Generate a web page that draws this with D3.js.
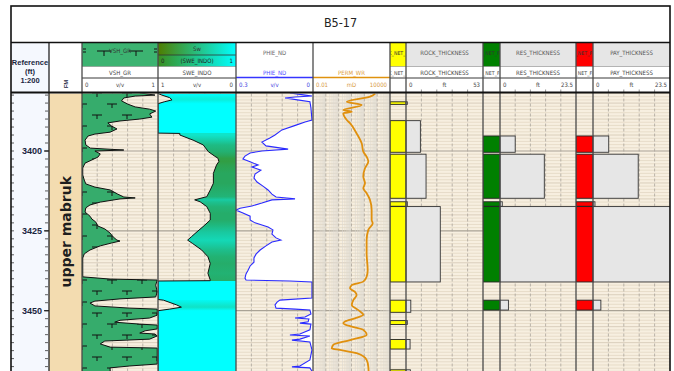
<!DOCTYPE html>
<html><head><meta charset="utf-8">
<script src="https://cdn.jsdelivr.net/npm/d3@7"></script>
<style>
html,body{margin:0;padding:0;background:#fff;}
svg{display:block;}
</style></head><body>
<svg id="log" width="674" height="371"></svg>
<script>
// ---------- well and depth ----------
const wellName = "B5-17";
const formationName = "upper mabruk";
const depthLabels = [3400, 3425, 3450];

// ---------- VSH_GR (v/v) ----------
const vshDepth = [3381.8,3382.5,3382.8,3383.4,3384.3,3385.3,3386.2,3386.9,3387.5,3388.4,3389.4,3390.0,3390.6,3391.2,3392.2,3393.1,3394.1,3394.7,3395.3,3396.6,3398.1,3399.1,3399.7,3400.0,3400.9,3401.9,3402.8,3403.8,3405.3,3407.5,3409.1,3410.3,3411.3,3412.2,3413.5,3414.4,3414.7,3415.0,3416.0,3416.9,3417.8,3419.1,3420.4,3421.3,3422.2,3423.5,3424.4,3425.7,3426.9,3427.9,3428.2,3428.8,3429.7,3431.0,3432.2,3433.5,3437.3,3439.4,3440.1,3440.4,3442.0,3444.1,3445.7,3446.3,3447.0,3447.6,3448.5,3449.2,3449.5,3451.4,3452.3,3453.0,3453.6,3454.2,3454.5,3455.7,3456.3,3457.0,3457.3,3457.9,3458.9,3459.5,3460.4,3461.4,3461.7,3466.7,3467.3,3467.9,3468.9,3470.0];
const vshValue = [0.76,0.96,0.70,0.55,0.52,0.60,0.70,0.89,0.97,0.89,0.92,0.76,0.50,0.34,0.39,0.46,0.37,0.17,0.08,0.04,0.05,0.11,0.55,0.17,0.24,0.21,0.13,0.04,0.01,0.01,0.03,0.05,0.17,0.37,0.47,0.55,0.70,0.50,0.24,0.105,0.05,0.04,0.105,0.13,0.18,0.21,0.30,0.37,0.41,0.46,0.50,0.39,0.24,0.105,0.03,0.01,0.01,0.01,0.37,0.99,0.97,0.99,0.97,0.50,0.17,0.105,0.17,0.63,0.99,0.99,0.89,0.50,0.43,0.76,0.99,0.99,0.83,0.76,0.96,0.99,0.89,0.30,0.24,0.37,0.99,0.99,0.63,0.37,0.37,0.50];

// ---------- SWE_INDO (v/v) ----------
const swDepth = [3382.0,3382.5,3383.3,3384.0,3384.6,3385.2,3394.4,3394.5,3395.0,3396.6,3398.1,3400.2,3401.5,3402.3,3403.3,3404.4,3407.0,3410.1,3412.2,3414.3,3415.3,3415.9,3417.4,3419.5,3421.6,3423.2,3425.3,3426.8,3427.9,3428.9,3431.0,3433.1,3435.2,3438.3,3440.4,3440.6,3440.7,3446.5,3446.7,3448.2,3448.9,3449.5,3450.0,3470.0];
const swValue = [1.0,0.95,0.85,0.82,0.92,1.0,1.0,0.72,0.72,0.55,0.42,0.355,0.28,0.23,0.22,0.25,0.29,0.29,0.33,0.375,0.53,0.46,0.375,0.33,0.33,0.40,0.50,0.57,0.62,0.56,0.44,0.36,0.33,0.36,0.33,0.33,1.0,1.0,0.93,0.76,0.70,0.85,1.0,1.0];

// ---------- PHIE_ND (v/v) ----------
const phiDepth = [3381.8,3382.5,3382.8,3383.1,3383.4,3384.0,3384.6,3386.5,3390.3,3390.9,3391.9,3393.4,3395.0,3395.9,3397.2,3398.4,3399.4,3400.0,3400.6,3401.6,3402.5,3403.4,3404.4,3405.0,3406.0,3407.2,3408.5,3409.7,3411.0,3412.2,3413.5,3414.4,3415.0,3415.3,3416.3,3417.2,3417.9,3418.5,3419.4,3420.4,3421.6,3422.5,3423.8,3424.7,3426.0,3427.2,3427.9,3428.5,3429.7,3431.0,3432.3,3433.5,3434.8,3436.0,3437.3,3438.5,3439.8,3440.4,3440.7,3441.0,3446.0,3446.7,3447.3,3448.2,3449.2,3449.5,3449.8,3451.0,3452.0,3452.3,3452.6,3453.5,3453.9,3454.2,3456.0,3457.3,3457.6,3457.9,3458.9,3459.2,3459.8,3462.3,3465.4,3467.3,3467.6,3467.9,3468.9,3470.0];
const phiValue = [0.090,0.031,0.004,0.070,0.109,0.060,0.012,0.008,0.004,0.031,0.066,0.121,0.148,0.168,0.199,0.183,0.097,0.199,0.245,0.265,0.273,0.245,0.214,0.238,0.203,0.226,0.230,0.218,0.195,0.175,0.160,0.144,0.070,0.160,0.199,0.238,0.284,0.300,0.273,0.245,0.245,0.226,0.175,0.156,0.160,0.144,0.125,0.160,0.183,0.206,0.222,0.230,0.230,0.245,0.253,0.261,0.265,0.261,0.090,0.004,0.004,0.129,0.140,0.148,0.144,0.070,0.012,0.008,0.031,0.070,0.016,0.019,0.051,0.008,0.012,0.051,0.090,0.012,0.051,0.082,0.012,0.004,0.012,0.051,0.082,0.012,0.004,0.004];

// ---------- PERM_WR (mD) ----------
const permDepth = [3382.0,3383.0,3384.6,3385.6,3387.2,3387.7,3388.2,3390.3,3391.3,3394.5,3397.6,3400.2,3401.8,3403.3,3405.4,3408.0,3410.1,3411.7,3413.2,3415.3,3418.5,3421.6,3422.6,3424.7,3427.9,3432.0,3437.3,3439.4,3440.9,3442.0,3443.0,3444.1,3445.1,3446.7,3448.2,3449.8,3451.3,3452.4,3453.4,3453.9,3455.0,3456.0,3457.6,3459.2,3460.7,3461.8,3462.3,3463.3,3465.4,3467.5,3470.0];
const permValue = [700,275,4.3,62,2.3,10.5,2.3,4.3,7.6,25,62,83,151,204,112,83,112,83,151,275,372,372,450,204,151,151,182,151,83,10.5,7.6,18.6,25,13.8,10.5,34,83,18.6,3.1,2.3,10.5,83,151,7.6,0.38,0.29,1.26,25,151,204,220];

// ---------- net flags and thickness (ft) ----------
const rockTop   = [3384.6,3390.5,3401.0,3415.9,3417.4,3446.7,3453.1,3459.0,3468.5];
const rockBase  = [3385.4,3400.4,3414.8,3417.3,3441.0,3450.5,3454.3,3462.0,3472.0];
const rockThick = [0.9,9.9,13.8,0.9,23.6,3.3,0.9,2.8,3.0];
const resTop    = [3395.3,3401.0,3415.9,3417.4,3446.7];
const resBase   = [3400.4,3414.8,3417.3,3441.0,3449.8];
const resThick  = [4.7,13.7,0.7,23.6,2.6];
const payTop    = [3395.3,3401.0,3415.9,3417.4,3446.7];
const payBase   = [3400.4,3414.8,3417.3,3441.0,3449.8];
const payThick  = [4.8,13.8,0.6,23.6,2.4];

// ---------- layout ----------
const FONT = '"Liberation Sans Narrow","DejaVu Sans Condensed","Liberation Sans",sans-serif';
const col = {ref:[11,49], fm:[49,82], vsh:[82,158], sw:[158,236], phi:[236,313], perm:[313,390],
  rockF:[390,406], rockT:[406,483], resF:[483,500], resT:[500,576], payF:[576,593], payT:[593,670]};
const Y_HEAD = 43, Y_ROWB = 66.5, Y_ROWC = 78, Y_DATA = 93.5, Y_END = 380;

const svg = d3.select("#log");
const defs = svg.append("defs");
svg.append("rect").attr("width",674).attr("height",371).attr("fill","#fff");

const y = d3.scaleLinear().domain([3400,3450]).range([151,310.7]);
const xVsh  = d3.scaleLinear().domain([0,1]).range(col.vsh);
const xSw   = d3.scaleLinear().domain([1,0]).range(col.sw);
const xPhi  = d3.scaleLinear().domain([0.3,0]).range(col.phi);
const xPerm = d3.scaleLog().domain([0.01,10000]).range(col.perm);
const xRock = d3.scaleLinear().domain([0,53]).range(col.rockT);
const xRes  = d3.scaleLinear().domain([0,23.5]).range(col.resT);
const xPay  = d3.scaleLinear().domain([0,23.5]).range(col.payT);
const swColor = d3.scaleLinear().domain([0,0.2,0.3,0.4,0.5,0.7,1])
  .range(["#4f8a10","#339c3c","#27a862","#1fb87e","#19c89e","#10e2c6","#00ffff"]);

function clipRect(id, c, y0, y1){
  defs.append("clipPath").attr("id",id).append("rect")
    .attr("x",c[0]).attr("y",y0).attr("width",c[1]-c[0]).attr("height",y1-y0);
  return `url(#${id})`;
}
const zip = (a,b) => a.map((d,i)=>({d, v:b[i]}));

// limestone-style symbol pattern for the shale fill
const pat = defs.append("pattern").attr("id","lith").attr("patternUnits","userSpaceOnUse")
  .attr("width",30).attr("height",22);
pat.append("path").attr("d","M2,5h10M7,5v4M17,16h10M22,16v4")
  .attr("stroke","#111").attr("stroke-width",1).attr("fill","none");

// ---------- data area backgrounds ----------
svg.append("rect").attr("x",col.ref[0]).attr("y",Y_HEAD).attr("width",col.ref[1]-col.ref[0])
  .attr("height",Y_END-Y_HEAD).attr("fill","#f5f8fe");
svg.append("rect").attr("x",col.fm[0]).attr("y",Y_DATA).attr("width",col.fm[1]-col.fm[0])
  .attr("height",Y_END-Y_DATA).attr("fill","#f3dcb0");
svg.append("text").attr("transform",`translate(${(col.fm[0]+col.fm[1])/2+5},${y(3425.3)}) rotate(-90)`)
  .attr("text-anchor","middle").attr("font-family","DejaVu Sans, sans-serif").attr("font-weight","bold")
  .attr("font-size",14).attr("fill","#1e1e1e").text(formationName);

svg.append("rect").attr("x",col.vsh[0]).attr("y",Y_DATA).attr("width",col.payT[1]-col.vsh[0])
  .attr("height",Y_END-Y_DATA).attr("fill","#f7efe0");

// horizontal depth grid
const gridDepths = d3.range(3382, 3471, 1);
svg.append("g").selectAll("line").data(gridDepths).join("line")
  .attr("x1",col.vsh[0]).attr("x2",col.payT[1])
  .attr("y1",d=>y(d)).attr("y2",d=>y(d))
  .attr("stroke",d=> d%25===0 ? "#a9a295" : d%5===0 ? "#d6cbb8" : "#e5dac6")
  .attr("stroke-width",d=> d%25===0 ? 1.2 : 0.9);

// vertical grids
const gv = svg.append("g");
function linGrid(scale, n){
  const dom = scale.domain();
  d3.range(1,n).forEach(i=>{
    const x = scale(dom[0] + (dom[1]-dom[0])*i/n);
    gv.append("line").attr("x1",x).attr("x2",x).attr("y1",Y_DATA).attr("y2",Y_END)
      .attr("stroke","#aaa39a").attr("stroke-width",0.8).attr("stroke-dasharray","3,2");
  });
}
linGrid(xVsh,5); linGrid(xSw,5); linGrid(xPhi,5);
linGrid(xRock,5); linGrid(xRes,5); linGrid(xPay,5);
[0.01,0.1,1,10,100,1000].forEach(dec=>{
  d3.range(2,10).forEach(m=>{
    const x = xPerm(dec*m);
    gv.append("line").attr("x1",x).attr("x2",x).attr("y1",Y_DATA).attr("y2",Y_END)
      .attr("stroke","#dcd8d0").attr("stroke-width",0.6);
  });
  if (dec>0.01) gv.append("line").attr("x1",xPerm(dec)).attr("x2",xPerm(dec)).attr("y1",Y_DATA).attr("y2",Y_END)
      .attr("stroke","#aaa39a").attr("stroke-width",0.8).attr("stroke-dasharray","3,2");
});

// ---------- VSH_GR ----------
const vshData = zip(vshDepth, vshValue);
const gVsh = svg.append("g").attr("clip-path", clipRect("cVsh", col.vsh, Y_DATA, Y_END));
const vshArea = d3.area().y(p=>y(p.d)).x0(col.vsh[0]).x1(p=>xVsh(p.v));
gVsh.append("path").datum(vshData).attr("d",vshArea).attr("fill","#36ac6c");
gVsh.append("path").datum(vshData).attr("d",vshArea).attr("fill","url(#lith)");
gVsh.append("path").datum(vshData).attr("d",d3.line().y(p=>y(p.d)).x(p=>xVsh(p.v)))
  .attr("fill","none").attr("stroke","#111").attr("stroke-width",1);

// ---------- SWE_INDO ----------
const swData = zip(swDepth, swValue);
const y0s = y(swDepth[0]), y1s = y(swDepth[swDepth.length-1]);
const grad = defs.append("linearGradient").attr("id","swGrad").attr("gradientUnits","userSpaceOnUse")
  .attr("x1",0).attr("x2",0).attr("y1",y0s).attr("y2",y1s);
swData.forEach(p=>{
  grad.append("stop").attr("offset",(y(p.d)-y0s)/(y1s-y0s)).attr("stop-color",swColor(p.v));
});
const gSw = svg.append("g").attr("clip-path", clipRect("cSw", col.sw, Y_DATA, Y_END));
gSw.append("path").datum(swData)
  .attr("d",d3.area().y(p=>y(p.d)).x0(p=>xSw(p.v)).x1(col.sw[1]))
  .attr("fill","url(#swGrad)");
gSw.append("path").datum(swData).attr("d",d3.line().y(p=>y(p.d)).x(p=>xSw(p.v)))
  .attr("fill","none").attr("stroke","#111").attr("stroke-width",1);

// ---------- PHIE_ND ----------
const phiData = zip(phiDepth, phiValue);
const gPhi = svg.append("g").attr("clip-path", clipRect("cPhi", col.phi, Y_DATA, Y_END));
gPhi.append("path").datum(phiData)
  .attr("d",d3.area().y(p=>y(p.d)).x0(p=>xPhi(p.v)).x1(col.phi[1])).attr("fill","#fff");
gPhi.append("path").datum(phiData).attr("d",d3.line().y(p=>y(p.d)).x(p=>xPhi(p.v)))
  .attr("fill","none").attr("stroke","#2a2aff").attr("stroke-width",1.1);

// ---------- PERM_WR ----------
const permData = zip(permDepth, permValue);
const gPerm = svg.append("g").attr("clip-path", clipRect("cPerm", col.perm, Y_DATA, Y_END));
gPerm.append("path").datum(permData)
  .attr("d",d3.line().curve(d3.curveMonotoneY).y(p=>y(p.d)).x(p=>xPerm(p.v)))
  .attr("fill","none").attr("stroke","#e0900e").attr("stroke-width",1.8);

// ---------- flags and thickness ----------
function netTrack(key, tops, bases, thick, flagCol, thCol, xs, color){
  const rows = tops.map((t,i)=>({t, b:bases[i], th:thick[i]}));
  const gF = svg.append("g").attr("clip-path", clipRect("cF"+key, [flagCol[0],flagCol[1]+2], Y_DATA, Y_END));
  gF.selectAll("rect").data(rows).join("rect")
    .attr("x",flagCol[0]).attr("width",flagCol[1]-flagCol[0])
    .attr("y",r=>y(r.t)).attr("height",r=>y(r.b)-y(r.t))
    .attr("fill",color).attr("stroke","#222").attr("stroke-width",0.9);
  const gT = svg.append("g").attr("clip-path", clipRect("cT"+key, thCol, Y_DATA, Y_END));
  gT.selectAll("rect").data(rows).join("rect")
    .attr("x",thCol[0]).attr("width",r=>xs(Math.min(r.th, xs.domain()[1]+1))-thCol[0])
    .attr("y",r=>y(r.t)).attr("height",r=>y(r.b)-y(r.t))
    .attr("fill","#e6e6e6").attr("stroke","#333").attr("stroke-width",0.9);
}
netTrack("rock", rockTop, rockBase, rockThick, col.rockF, col.rockT, xRock, "#ffff00");
netTrack("res",  resTop,  resBase,  resThick,  col.resF,  col.resT,  xRes,  "#008000");
netTrack("pay",  payTop,  payBase,  payThick,  col.payF,  col.payT,  xPay,  "#ff0000");

// ---------- depth axis ----------
const gAx = svg.append("g");
d3.range(3382.5, 3471, 2.5).forEach(d=>{
  gAx.append("line").attr("x1",col.ref[0]).attr("x2",col.ref[0]+3).attr("y1",y(d)).attr("y2",y(d))
    .attr("stroke","#333").attr("stroke-width",0.8);
  gAx.append("line").attr("x1",col.ref[1]-4).attr("x2",col.ref[1]-1).attr("y1",y(d)).attr("y2",y(d))
    .attr("stroke","#333").attr("stroke-width",0.8);
});
depthLabels.forEach(d=>{
  gAx.append("line").attr("x1",col.ref[1]-5).attr("x2",col.ref[1]).attr("y1",y(d)).attr("y2",y(d))
    .attr("stroke","#222").attr("stroke-width",1.2);
  gAx.append("text").attr("x",col.ref[1]-7).attr("y",y(d)+3).attr("text-anchor","end")
    .attr("font-family",'"Liberation Sans",Arial,sans-serif').attr("font-weight","bold")
    .attr("font-size",9).attr("fill","#1a2540").text(d);
});

// ---------- header ----------
const gH = svg.append("g").attr("font-family",FONT);
function hText(x, yy, s, opt={}){
  const t = gH.append("text").attr("x",x).attr("y",yy).attr("font-size",opt.size||6)
    .attr("fill",opt.color||"#444").attr("text-anchor",opt.anchor||"middle").text(s);
  if (opt.clip) t.attr("clip-path",opt.clip);
  if (opt.weight) t.attr("font-weight",opt.weight);
  return t;
}
function scaleRow(c, l, m, r, color){
  hText(c[0]+3, 87, l, {anchor:"start", color});
  hText((c[0]+c[1])/2, 87, m, {color});
  hText(c[1]-3, 87, r, {anchor:"end", color});
}
const mid = c => (c[0]+c[1])/2;

// reference header
hText(mid(col.ref), 65, "Reference", {size:7.5, weight:"bold", color:"#1a2540"}).attr("font-family",'"Liberation Sans",Arial,sans-serif');
hText(mid(col.ref), 73.5, "(ft)", {size:7.5, weight:"bold", color:"#1a2540"}).attr("font-family",'"Liberation Sans",Arial,sans-serif');
hText(mid(col.ref), 82.5, "1:200", {size:7.5, weight:"bold", color:"#1a2540"}).attr("font-family",'"Liberation Sans",Arial,sans-serif');
gH.append("text").attr("transform",`translate(${mid(col.fm)+2},${84}) rotate(-90)`)
  .attr("text-anchor","middle").attr("font-size",6).attr("font-weight","bold")
  .attr("font-family",'"Liberation Sans",Arial,sans-serif').attr("fill","#1a2540").text("FM");

// VSH_GR header
gH.append("rect").attr("x",col.vsh[0]).attr("y",Y_HEAD).attr("width",col.vsh[1]-col.vsh[0])
  .attr("height",Y_ROWB-Y_HEAD).attr("fill","#3cb371");
gH.append("path").attr("d",`M${col.vsh[0]+15},51h14M${col.vsh[0]+22},51v5M${col.vsh[1]-29},51h14M${col.vsh[1]-22},51v5M${col.vsh[0]+1},49h3M${col.vsh[0]+1},52h3M${col.vsh[1]-4},49h3M${col.vsh[1]-4},52h3`)
  .attr("stroke","#111").attr("stroke-width",1).attr("fill","none");
hText(mid(col.vsh), 53, "VSH_GR", {color:"#333"});
hText(mid(col.vsh), 74.5, "VSH_GR");
scaleRow(col.vsh, "0", "v/v", "1");

// SWE_INDO header
const g1 = defs.append("linearGradient").attr("id","hSw1");
g1.append("stop").attr("offset",0).attr("stop-color","#4e7d00");
g1.append("stop").attr("offset",1).attr("stop-color","#00ffff");
const g2 = defs.append("linearGradient").attr("id","hSw2");
g2.append("stop").attr("offset",0).attr("stop-color","#3a8e20");
g2.append("stop").attr("offset",1).attr("stop-color","#00ffff");
gH.append("rect").attr("x",col.sw[0]).attr("y",Y_HEAD).attr("width",col.sw[1]-col.sw[0])
  .attr("height",12).attr("fill","url(#hSw1)");
gH.append("rect").attr("x",col.sw[0]).attr("y",Y_HEAD+12).attr("width",col.sw[1]-col.sw[0])
  .attr("height",Y_ROWB-Y_HEAD-12).attr("fill","url(#hSw2)");
gH.append("line").attr("x1",col.sw[0]).attr("x2",col.sw[1]).attr("y1",Y_HEAD+12).attr("y2",Y_HEAD+12)
  .attr("stroke","#333").attr("stroke-width",0.8);
hText(mid(col.sw), 50.5, "Sw", {color:"#333"});
hText(col.sw[0]+3, 63, "0", {anchor:"start", color:"#222"});
hText(mid(col.sw), 63, "(SWE_INDO)", {color:"#222"});
hText(col.sw[1]-3, 63, "1", {anchor:"end", color:"#222"});
hText(mid(col.sw), 74.5, "SWE_INDO");
scaleRow(col.sw, "1", "v/v", "0");

// PHIE_ND header
hText(mid(col.phi), 55, "PHIE_ND", {color:"#666"});
hText(mid(col.phi), 74.5, "PHIE_ND", {color:"#5050ff"});
scaleRow(col.phi, "0.3", "v/v", "0", "#4040e0");

// PERM_WR header
hText(mid(col.perm), 74.5, "PERM_WR", {color:"#e0a040"});
scaleRow(col.perm, "0.01", "mD", "10000", "#d89a40");

// net flag and thickness headers
function netHeader(key, name, flagCol, thCol, color, maxv){
  gH.append("rect").attr("x",flagCol[0]).attr("y",Y_HEAD).attr("width",flagCol[1]-flagCol[0])
    .attr("height",Y_ROWB-Y_HEAD).attr("fill",color);
  gH.append("rect").attr("x",thCol[0]).attr("y",Y_HEAD).attr("width",thCol[1]-thCol[0])
    .attr("height",Y_ROWB-Y_HEAD).attr("fill","#e6e6e6");
  const cp = clipRect("hc"+key, [flagCol[0]+0.5, flagCol[1]-0.5], Y_HEAD, Y_ROWC);
  hText(mid(flagCol), 55, name+"_NET_FLAG", {clip:cp, color:"#333", size:5.2});
  hText(mid(flagCol), 74.5, name+"_NET_FLAG", {clip:cp, size:5.2});
  hText(mid(thCol), 55, name+"_THICKNESS", {color:"#555"});
  hText(mid(thCol), 74.5, name+"_THICKNESS");
  scaleRow(thCol, "0", "ft", maxv);
  d3.range(1,5).forEach(i=>{
    const x = thCol[0] + (thCol[1]-thCol[0])*i/5;
    gH.append("line").attr("x1",x).attr("x2",x).attr("y1",89.5).attr("y2",92).attr("stroke","#666").attr("stroke-width",0.7);
  });
}
netHeader("r","ROCK", col.rockF, col.rockT, "#ffff00", "53");
netHeader("s","RES",  col.resF,  col.resT,  "#008000", "23.5");
netHeader("p","PAY",  col.payF,  col.payT,  "#ff0000", "23.5");

// header row separators
[col.vsh, col.sw, col.rockF, col.rockT, col.resF, col.resT, col.payF, col.payT].forEach(c=>{
  gH.append("line").attr("x1",c[0]).attr("x2",c[1]).attr("y1",Y_ROWB).attr("y2",Y_ROWB).attr("stroke","#888").attr("stroke-width",0.6);
  gH.append("line").attr("x1",c[0]).attr("x2",c[1]).attr("y1",Y_ROWC).attr("y2",Y_ROWC).attr("stroke","#222").attr("stroke-width",0.9);
});
gH.append("line").attr("x1",col.phi[0]).attr("x2",col.phi[1]).attr("y1",Y_ROWC-0.5).attr("y2",Y_ROWC-0.5)
  .attr("stroke","#3535ff").attr("stroke-width",1.6);
gH.append("line").attr("x1",col.perm[0]).attr("x2",col.perm[1]).attr("y1",Y_ROWC-0.5).attr("y2",Y_ROWC-0.5)
  .attr("stroke","#e0920e").attr("stroke-width",1.6);

// ---------- frame and separators ----------
const gF = svg.append("g");
[col.fm[0], col.vsh[0], col.sw[0], col.phi[0], col.perm[0], col.rockF[0], col.rockT[0], col.resF[0], col.resT[0], col.payF[0], col.payT[0]]
  .forEach(x=>{
    gF.append("line").attr("x1",x).attr("x2",x).attr("y1",Y_HEAD).attr("y2",Y_END)
      .attr("stroke", x===col.fm[0] ? "#111" : "#4a4a4a").attr("stroke-width", x===col.fm[0] ? 1.2 : 1.3);
  });
gF.append("line").attr("x1",col.ref[0]).attr("x2",col.payT[1]).attr("y1",42.5).attr("y2",42.5)
  .attr("stroke","#111").attr("stroke-width",1.6);
gF.append("line").attr("x1",col.ref[0]).attr("x2",col.payT[1]).attr("y1",92.5).attr("y2",92.5)
  .attr("stroke","#111").attr("stroke-width",2);
gF.append("rect").attr("x",col.ref[0]).attr("y",6).attr("width",col.payT[1]-col.ref[0]).attr("height",Y_END)
  .attr("fill","none").attr("stroke","#111").attr("stroke-width",1.6);

// title
svg.append("text").attr("x",340.5).attr("y",27).attr("text-anchor","middle")
  .attr("font-family",FONT).attr("font-size",12.5).attr("fill","#222").text(wellName);
</script>
</body></html>
